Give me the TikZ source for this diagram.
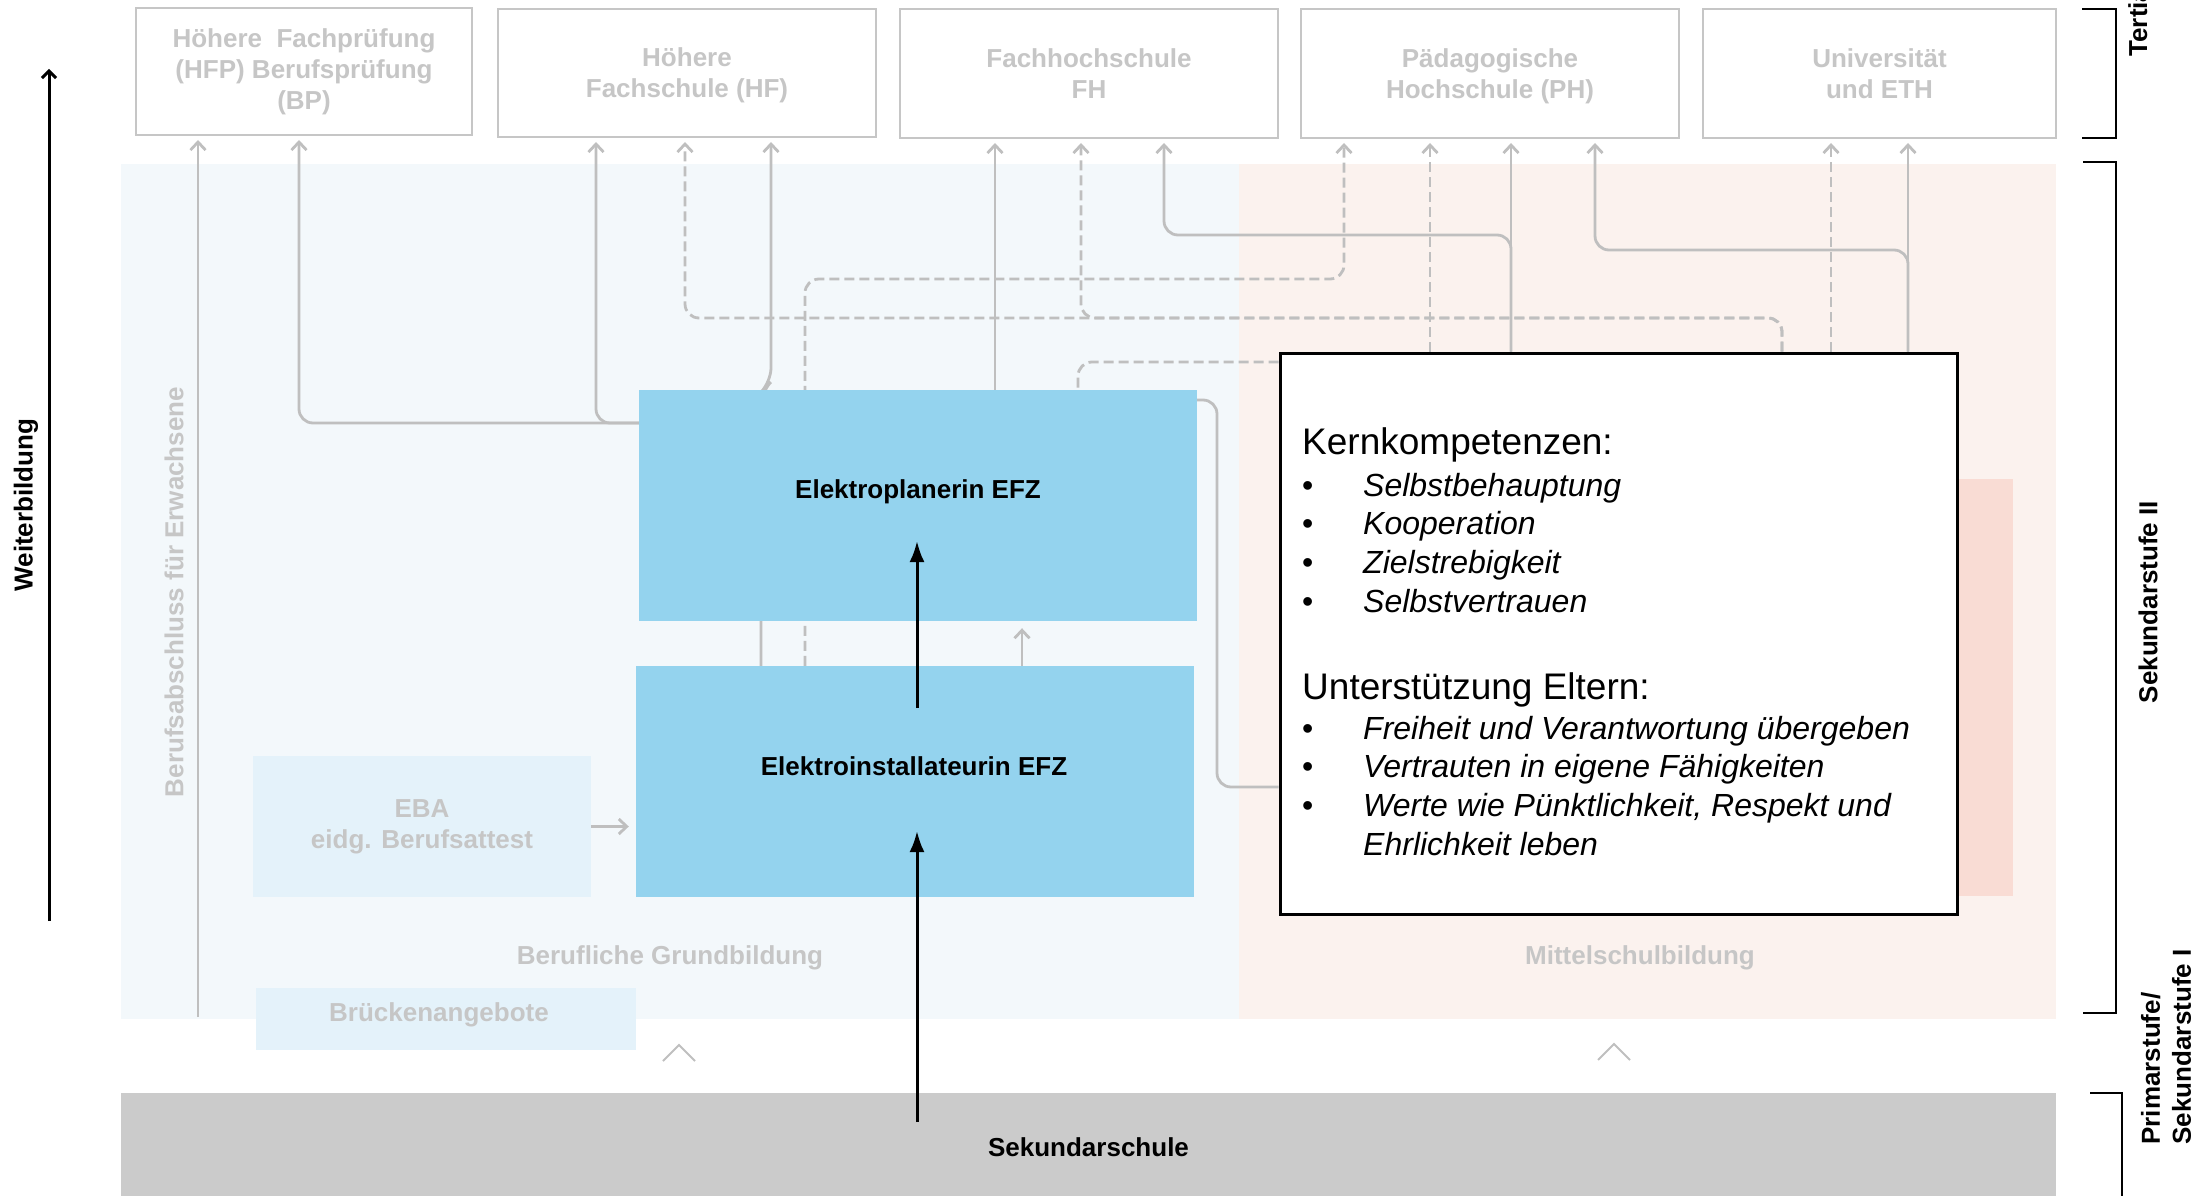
\documentclass[tikz,border=0pt]{standalone}
\usepackage{fontspec}
\setmainfont{Liberation Sans}
\usetikzlibrary{arrows.meta}
\pgfdeclarelayer{back}
\pgfdeclarelayer{wires}
\pgfsetlayers{back,wires,main}
\definecolor{bgblue}{RGB}{243,248,251}
\definecolor{bgpeach}{RGB}{251,242,238}
\definecolor{pinkbox}{RGB}{249,220,212}
\definecolor{efzblue}{RGB}{148,211,238}
\definecolor{ebablue}{RGB}{228,242,250}
\definecolor{band}{RGB}{203,203,203}
\definecolor{lgray}{RGB}{191,191,191}
\definecolor{tgray}{RGB}{198,198,198}
\newcommand{\kbul}{\makebox[61pt][l]{\upshape\textbullet}}

\begin{document}
\begin{tikzpicture}[x=1pt, y=-1pt,
    topbox/.style={draw=tgray, line width=2pt, fill=white, align=center, text=tgray, inner sep=0pt, font=\fontsize{26}{31}\selectfont\bfseries},
    efz/.style={fill=efzblue, minimum width=558pt, minimum height=231pt, inner sep=0pt},
    efztext/.style={font=\fontsize{26}{31}\selectfont\bfseries},
    bglab/.style={text=tgray, align=center, font=\fontsize{26}{31}\selectfont\bfseries},
    sidelab/.style={rotate=90, font=\fontsize{26}{31}\selectfont\bfseries},
    kernhead/.style={anchor=base west, inner sep=0pt, font=\fontsize{37}{44}\selectfont},
    kernitem/.style={anchor=base west, inner sep=0pt, font=\fontsize{32}{38}\selectfont\itshape},
    conn/.style={draw=lgray, line width=2.8pt, rounded corners=14pt},
    dconn/.style={conn, dash pattern=on 10pt off 5pt},
    uptip/.style={arrows={-Straight Barb[length=8pt,width=15pt]}, shorten >=4pt}]
    \useasboundingbox (0,0) rectangle (2208,1196);

    \coordinate (erw) at (198,1017);
    \coordinate (wb0) at (49,921);
    \coordinate (wb1) at (49,69);
    \coordinate (s0) at (917,1122);
    \coordinate (s1) at (917,831);
    \coordinate (s2) at (917,708);
    \coordinate (s3) at (917,541);

    % tertiaer
    \node [topbox, minimum width=336pt, minimum height=127pt] (hfp) at (304,71.5) {Höhere~ Fachprüfung\\(HFP) Berufsprüfung\\(BP)};
    \node [topbox, minimum width=378pt, minimum height=128pt] (hf) at (687,73) {Höhere\\\smash{Fachschule (HF)}};
    \node [topbox, minimum width=378pt, minimum height=129pt] (fh) at (1089,73.5) {Fachhochschule\\FH};
    \node [topbox, minimum width=378pt, minimum height=129pt] (ph) at (1490,73.5) {Pädagogische\\\smash{Hochschule (PH)}};
    \node [topbox, minimum width=353pt, minimum height=129pt] (uni) at (1879.5,73.5) {Universität\\und ETH};

    % sekundarstufe II
    \node [efz] (plan) at (918,505.5) {};
    \node [efztext] (plantext) at (918,492) {Elektroplanerin EFZ};
    \node [efz] (inst) at (915,781.5) {};
    \node [efztext] (insttext) at (914,766) {Elektroinstallateurin EFZ};
    \node [fill=ebablue, minimum width=338pt, minimum height=141pt, inner sep=0pt, bglab] (eba) at (422,826.5) {EBA\\eidg. Berufsattest};
    \node [fill=ebablue, minimum width=380pt, minimum height=62pt, inner sep=0pt] (bruecke) at (446,1019) {};
    \node [bglab] (bruecketext) at (439,1015) {Brückenangebote};
    \node [bglab] (grund) at (670,958) {Berufliche Grundbildung};
    \node [bglab] (mittel) at (1640,958) {Mittelschulbildung};
    \node [sidelab, text=tgray] (erwlab) at (174,592) {Berufsabschluss für Erwachsene};
    \node [fill=band, minimum width=1935pt, minimum height=109pt, inner sep=0pt, efztext] (sek) at (1088.5,1147.5) {Sekundarschule};

    % kernkompetenzen
    \node [draw=black, line width=3pt, fill=white, minimum width=677pt, minimum height=561pt] (kern) at (1618.5,633.5) {};
    \node [kernhead] (kk) at (1302,454) {Kernkompetenzen:};
    \node [kernitem] (k1) at (1302,496) {\kbul Selbstbehauptung};
    \node [kernitem] (k2) at (1302,534) {\kbul Kooperation};
    \node [kernitem] (k3) at (1302,573) {\kbul Zielstrebigkeit};
    \node [kernitem] (k4) at (1302,612) {\kbul Selbstvertrauen};
    \node [kernhead] (ue) at (1302,699) {Unterstützung Eltern:};
    \node [kernitem] (e1) at (1302,739) {\kbul Freiheit und Verantwortung übergeben};
    \node [kernitem] (e2) at (1302,777) {\kbul Vertrauten in eigene Fähigkeiten};
    \node [kernitem] (e3) at (1302,816) {\kbul Werte wie Pünktlichkeit, Respekt und};
    \node [kernitem] (e4) at (1363,855) {Ehrlichkeit leben};

    % stufen
    \node [sidelab] (weiter) at (26,505) {Weiterbildung};
    \node [sidelab, anchor=base west] (tert) at (2147,60) {Tertiär};
    \node [sidelab] (sek2) at (2148,602) {Sekundarstufe II};
    \node [sidelab, anchor=west, align=left] (prim) at (2166,1148) {Primarstufe/\\Sekundarstufe I};

    \begin{pgfonlayer}{back}
        \fill [bgblue] (121,164) rectangle (1239,1019);
        \fill [bgpeach] (1239,164) rectangle (2056,1019);
        \fill [pinkbox] (1900,479) rectangle (2013,896);
    \end{pgfonlayer}

    \begin{pgfonlayer}{wires}
        \draw [conn, uptip] (erw) -- (erw |- hfp.south);
        \draw [conn, uptip] (plan.north west |- 0,423) -| (299,0 |- hfp.south);
        \draw [conn, uptip] (plan.north west |- 0,423) -| (596,0 |- hf.south);
        \draw [dconn, uptip] (1782,0 |- kern.north) |- (685,318) -- (685,0 |- hf.south);
        \draw [dconn, uptip] (1782,0 |- kern.north) |- (1081,318) -- (1081,0 |- fh.south);
        \draw [conn, uptip] (761,0 |- inst.north) -- (761,392) -- (771,382) -- (771,0 |- hf.south);
        \draw [dconn, uptip] (805,0 |- inst.north) |- (1344,279) -- (1344,0 |- ph.south);
        \draw [conn, uptip] (995,0 |- plan.north) -- (995,0 |- fh.south);
        \draw [conn, uptip] (1511,0 |- kern.north) -- (1511,0 |- ph.south);
        \draw [conn, uptip] (1511,0 |- kern.north) |- (1164,235) -- (1164,0 |- fh.south);
        \draw [dconn, uptip] (1430,0 |- kern.north) -- (1430,0 |- ph.south);
        \draw [conn, uptip] (1908,0 |- kern.north) -- (1908,0 |- uni.south);
        \draw [conn, uptip] (1908,0 |- kern.north) |- (1595,250) -- (1595,0 |- ph.south);
        \draw [dconn, uptip] (1831,0 |- kern.north) -- (1831,0 |- uni.south);
        \draw [dconn] (kern.north west |- 0,362) -| (1078,0 |- plan.north);
        \draw [conn] (kern.north west |- 0,787) -| (1217,400) -- (plan.north east |- 0,400);
        \draw [conn, uptip, shorten >=7pt] (1022,0 |- inst.north) -- (1022,0 |- plan.south);
        \draw [conn, uptip, shorten >=7pt] (eba.east) -- (eba.east -| inst.west);
    \end{pgfonlayer}

    \draw [lgray, line width=2pt] (663,1061) -- (679,1045) -- (695,1061);
    \draw [lgray, line width=2pt] (1598,1060) -- (1614,1044) -- (1630,1060);
    \draw [arrows={-Latex[length=21pt,width=15pt]}, line width=3pt] (s0) -- (s1);
    \draw [arrows={-Latex[length=21pt,width=15pt]}, line width=3pt] (s2) -- (s3);
    \draw [arrows={-Straight Barb[length=7pt,width=14pt]}, line width=3pt] (wb0) -- (wb1);
    \draw [line width=2pt] (2082,9) -- (2116,9) -- (2116,138) -- (2082,138);
    \draw [line width=2pt] (2083,162) -- (2116,162) -- (2116,1013) -- (2083,1013);
    \draw [line width=2pt] (2090,1093) -- (2122,1093) -- (2122,1200);
\end{tikzpicture}
\end{document}
